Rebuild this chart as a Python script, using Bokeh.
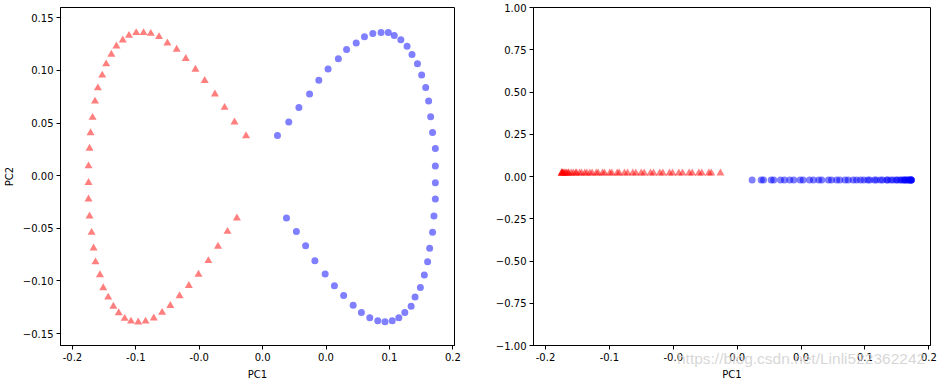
from bokeh.plotting import figure
from bokeh.layouts import row
from bokeh.models import FixedTicker, LinearAxis
from bokeh.embed import file_html
from bokeh.resources import INLINE

# ---- data ----
red_pc1 = [-0.0131, -0.0222, -0.0300, -0.0376, -0.0457, -0.0530, -0.0606, -0.0678, -0.0751, -0.0817,
           -0.0882, -0.0939, -0.0997, -0.1054, -0.1103, -0.1153, -0.1193, -0.1234, -0.1265, -0.1299,
           -0.1322, -0.1341, -0.1357, -0.1365, -0.1373, -0.1373, -0.1373, -0.1365, -0.1349, -0.1333,
           -0.1318, -0.1283, -0.1257, -0.1218, -0.1177, -0.1135, -0.1088, -0.1038, -0.0981, -0.0923,
           -0.0858, -0.0793, -0.0728, -0.0655, -0.0582, -0.0506, -0.0428, -0.0352, -0.0277, -0.0203]
red_pc2 = [0.0379, 0.0509, 0.0648, 0.0774, 0.0903, 0.1010, 0.1112, 0.1200, 0.1260, 0.1320,
           0.1351, 0.1358, 0.1358, 0.1332, 0.1288, 0.1231, 0.1152, 0.1061, 0.0954, 0.0833,
           0.0707, 0.0553, 0.0407, 0.0259, 0.0092, -0.0066, -0.0223, -0.0384, -0.0540, -0.0688,
           -0.0820, -0.0943, -0.1066, -0.1155, -0.1241, -0.1303, -0.1357, -0.1383, -0.1392, -0.1383,
           -0.1354, -0.1300, -0.1234, -0.1142, -0.1045, -0.0938, -0.0808, -0.0672, -0.0530, -0.0403]
blue_pc1 = [0.0117, 0.0206, 0.0286, 0.0370, 0.0443, 0.0516, 0.0597, 0.0662, 0.0738, 0.0803,
            0.0869, 0.0934, 0.0991, 0.1038, 0.1090, 0.1139, 0.1178, 0.1221, 0.1254, 0.1286,
            0.1309, 0.1325, 0.1340, 0.1362, 0.1362, 0.1362, 0.1362, 0.1351, 0.1340, 0.1317,
            0.1301, 0.1275, 0.1244, 0.1202, 0.1171, 0.1121, 0.1074, 0.1022, 0.0965, 0.0908,
            0.0845, 0.0779, 0.0714, 0.0639, 0.0566, 0.0493, 0.0412, 0.0339, 0.0266, 0.0188]
blue_pc2 = [0.0383, 0.0511, 0.0648, 0.0777, 0.0906, 0.1013, 0.1112, 0.1200, 0.1260, 0.1320,
            0.1351, 0.1361, 0.1361, 0.1332, 0.1292, 0.1231, 0.1152, 0.1064, 0.0956, 0.0837,
            0.0710, 0.0559, 0.0411, 0.0259, 0.0092, -0.0066, -0.0221, -0.0382, -0.0536, -0.0688,
            -0.0817, -0.0943, -0.1063, -0.1152, -0.1241, -0.1300, -0.1350, -0.1379, -0.1388, -0.1379,
            -0.1350, -0.1300, -0.1231, -0.1139, -0.1045, -0.0934, -0.0808, -0.0666, -0.0530, -0.0401]
red_offset = 0.02
blue_offset = -0.02

x_ticks = [-0.15, -0.10, -0.05, 0.0, 0.05, 0.10, 0.15]
x_tick_labels = ["-0.2", "-0.1", "-0.0", "0.0", "0.0", "0.1", "0.2"]
y1_ticks = [-0.15, -0.10, -0.05, 0.0, 0.05, 0.10, 0.15]
y1_tick_labels = ["\u22120.15", "\u22120.10", "\u22120.05", "0.00", "0.05", "0.10", "0.15"]
y2_ticks = [-1.0, -0.75, -0.5, -0.25, 0.0, 0.25, 0.5, 0.75, 1.0]
y2_tick_labels = ["\u22121.00", "\u22120.75", "\u22120.50", "\u22120.25", "0.00", "0.25", "0.50", "0.75", "1.00"]
watermark = "https://blog.csdn.net/Linli522362242"
watermark_at = 0.050

X_RANGE = (-0.1594, 0.1513)


def style(p, yticks, ylabels):
    p.xgrid.visible = False
    p.ygrid.visible = False
    p.outline_line_color = "black"
    p.outline_line_width = 1
    p.background_fill_color = "white"
    p.border_fill_color = "white"
    p.xaxis.ticker = FixedTicker(ticks=x_ticks)
    p.xaxis.major_label_overrides = dict(zip(x_ticks, x_tick_labels))
    p.yaxis.ticker = FixedTicker(ticks=yticks)
    p.yaxis.major_label_overrides = dict(zip(yticks, ylabels))
    for ax in (p.xaxis[0], p.yaxis[0]):
        ax.axis_line_color = "black"
        ax.major_tick_line_color = "black"
        ax.major_tick_out = 4
        ax.major_tick_in = 0
        ax.minor_tick_line_color = None
        ax.major_label_text_font = "DejaVu Sans"
        ax.major_label_text_font_size = "10px"
        ax.major_label_text_color = "black"
        ax.axis_label_text_font = "DejaVu Sans"
        ax.axis_label_text_font_size = "10px"
        ax.axis_label_text_font_style = "normal"
        ax.axis_label_text_color = "black"
        ax.major_label_standoff = 3
        ax.axis_label_standoff = 5


p1 = figure(width=470, height=382, x_range=X_RANGE, y_range=(-0.1613, 0.1598),
            min_border_left=57, min_border_right=16, min_border_top=7, min_border_bottom=36,
            output_backend="svg", toolbar_location=None)
p1.scatter(red_pc1, red_pc2, marker="triangle", size=8, fill_color="red", fill_alpha=0.5, line_color=None)
p1.scatter(blue_pc1, blue_pc2, marker="circle", size=7, fill_color="blue", fill_alpha=0.5, line_color=None)
p1.xaxis.axis_label = "PC1"
p1.yaxis.axis_label = "PC2"
style(p1, y1_ticks, y1_tick_labels)

p2 = figure(width=467, height=382, x_range=X_RANGE, y_range=(-1.0, 1.0),
            min_border_left=63, min_border_right=7, min_border_top=7, min_border_bottom=36,
            output_backend="svg", toolbar_location=None)
p2.scatter(red_pc1, [red_offset] * len(red_pc1), marker="triangle", size=8,
           fill_color="red", fill_alpha=0.5, line_color=None)
p2.scatter(blue_pc1, [blue_offset] * len(blue_pc1), marker="circle", size=7,
           fill_color="blue", fill_alpha=0.5, line_color=None)
p2.xaxis.axis_label = "PC1"
style(p2, y2_ticks, y2_tick_labels)

# faint site watermark drawn as a tick label of an extra, line-less axis
wm_axis = LinearAxis(ticker=FixedTicker(ticks=[watermark_at]),
                     major_label_overrides={watermark_at: watermark},
                     axis_line_color=None, major_tick_line_color=None,
                     minor_tick_line_color=None, major_tick_out=0, major_tick_in=0,
                     major_label_standoff=-33,
                     major_label_text_font="Liberation Sans",
                     major_label_text_font_size="15.5px",
                     major_label_text_color="#cfcfcf", major_label_text_alpha=0.85)
p2.add_layout(wm_axis, "below")

layout = row(p1, p2)
open("out.html", "w").write(file_html(layout, INLINE))
